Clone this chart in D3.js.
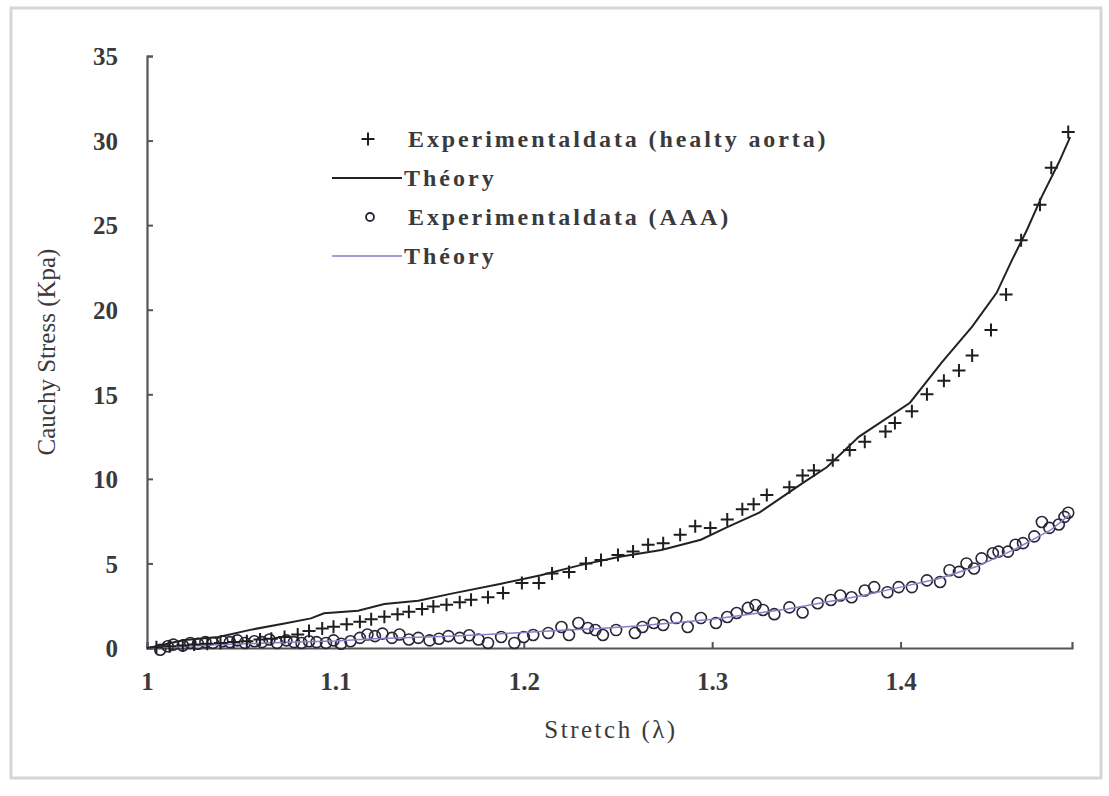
<!DOCTYPE html>
<html>
<head>
<meta charset="utf-8">
<script src="https://cdnjs.cloudflare.com/ajax/libs/d3/7.8.5/d3.min.js"></script>
<style>
body { margin: 0; background: #fff; }
text { font-family: "Liberation Serif", "Times New Roman", serif; fill: #3a3a3a; }
</style>
</head>
<body>
<svg id="chart" width="1109" height="796"></svg>
<script>
// healthy aorta, experimental (+)
var healthyStretch = [1.005,1.012,1.019,1.025,1.032,1.039,1.046,1.053,1.060,1.066,1.073,1.080,1.086,1.093,1.099,1.106,1.113,1.119,1.126,1.133,1.139,1.146,1.152,1.159,1.166,1.172,1.181,1.189,1.199,1.208,1.215,1.224,1.233,1.241,1.250,1.258,1.266,1.274,1.283,1.291,1.299,1.308,1.316,1.322,1.329,1.341,1.348,1.354,1.364,1.373,1.381,1.392,1.397,1.406,1.414,1.423,1.431,1.438,1.448,1.456,1.464,1.474,1.480,1.489];
var healthyStress = [0.05,0.1,0.15,0.2,0.25,0.3,0.35,0.4,0.5,0.55,0.65,0.8,1.0,1.15,1.25,1.4,1.55,1.7,1.85,2.0,2.15,2.3,2.45,2.55,2.7,2.85,3.0,3.25,3.85,3.85,4.4,4.5,5.0,5.2,5.5,5.7,6.1,6.2,6.7,7.2,7.1,7.6,8.2,8.5,9.05,9.5,10.2,10.5,11.1,11.7,12.2,12.8,13.3,14.0,15.0,15.8,16.4,17.3,18.8,20.9,24.1,26.2,28.4,30.5];

// healthy aorta, theory (black line)
var healthyTheoryStretch = [1.0,1.003,1.020,1.038,1.056,1.073,1.087,1.094,1.112,1.126,1.144,1.161,1.188,1.209,1.230,1.251,1.273,1.294,1.308,1.325,1.348,1.361,1.378,1.405,1.422,1.438,1.451,1.459,1.467,1.475,1.484,1.490];
var healthyTheoryStress = [0,0.06,0.47,0.65,1.1,1.45,1.75,2.05,2.2,2.6,2.8,3.2,3.8,4.3,4.9,5.4,5.8,6.4,7.15,8.0,9.75,10.7,12.5,14.5,16.9,19.0,21.0,22.9,24.7,26.7,28.7,30.2];

// AAA, experimental (o)
var aaaStretch = [1.007,1.011,1.014,1.019,1.023,1.027,1.031,1.035,1.040,1.044,1.048,1.052,1.057,1.061,1.065,1.069,1.074,1.078,1.082,1.086,1.090,1.095,1.099,1.103,1.108,1.113,1.117,1.121,1.125,1.130,1.134,1.139,1.144,1.150,1.155,1.160,1.166,1.171,1.176,1.181,1.188,1.195,1.200,1.205,1.213,1.220,1.224,1.229,1.234,1.238,1.242,1.249,1.259,1.263,1.269,1.274,1.281,1.287,1.294,1.302,1.308,1.313,1.319,1.323,1.327,1.333,1.341,1.348,1.356,1.363,1.368,1.374,1.381,1.386,1.393,1.399,1.406,1.414,1.421,1.426,1.431,1.435,1.439,1.443,1.449,1.452,1.457,1.461,1.465,1.471,1.475,1.479,1.484,1.487,1.489];
var aaaStress = [-0.1,0.1,0.2,0.15,0.3,0.25,0.35,0.3,0.4,0.35,0.45,0.3,0.4,0.35,0.5,0.3,0.45,0.35,0.3,0.4,0.35,0.3,0.45,0.25,0.4,0.6,0.8,0.7,0.85,0.6,0.8,0.5,0.6,0.45,0.55,0.7,0.6,0.75,0.5,0.3,0.65,0.3,0.65,0.77,0.89,1.24,0.77,1.48,1.18,1.06,0.77,1.06,0.89,1.24,1.48,1.36,1.77,1.24,1.77,1.48,1.83,2.07,2.37,2.54,2.25,2.0,2.4,2.1,2.65,2.84,3.1,3.0,3.4,3.6,3.3,3.6,3.6,4.0,3.9,4.6,4.5,5.0,4.7,5.3,5.6,5.7,5.7,6.1,6.2,6.6,7.45,7.1,7.3,7.75,8.0];

// AAA, theory (purple line)
var aaaTheoryStretch = [1.0,1.02,1.04,1.06,1.08,1.10,1.12,1.14,1.16,1.18,1.20,1.22,1.24,1.26,1.28,1.30,1.32,1.34,1.36,1.38,1.40,1.42,1.44,1.46,1.48,1.49];
var aaaTheoryStress = [0,0.1,0.2,0.28,0.35,0.42,0.55,0.62,0.7,0.8,0.92,1.05,1.15,1.3,1.5,1.7,2.0,2.3,2.7,3.1,3.6,4.1,4.8,5.8,7.0,7.9];

var xTicks = [1, 1.1, 1.2, 1.3, 1.4];
var yTicks = [0, 5, 10, 15, 20, 25, 30, 35];
var legendLabels = ["Experimentaldata (healty aorta)", "Théory", "Experimentaldata (AAA)", "Théory"];

// margins
var margin = { top: 56, right: 37, bottom: 148, left: 147 },
		width = 1109 - margin.left - margin.right,
		height = 796 - margin.top - margin.bottom;

var xScale = d3.scaleLinear().domain([1, 1.491]).range([0, width]);
var yScale = d3.scaleLinear().domain([0, 35]).range([height, 0]);

var svg = d3.select("#chart");

// faint frame round the picture
svg.append("rect").attr("x", 11).attr("y", 8).attr("width", 1090).attr("height", 770)
		.attr("fill", "none").attr("stroke", "#d6d6d6").attr("stroke-width", 3);

var g = svg.append("g").attr("transform", "translate(" + margin.left + "," + margin.top + ")");

// axes, ticks pointing inwards
var xAxis = d3.axisBottom(xScale).tickValues(xTicks).tickSize(-6).tickPadding(24).tickFormat(d3.format("~g"));
var yAxis = d3.axisLeft(yScale).tickValues(yTicks).tickSize(-6).tickPadding(29);

var gx = g.append("g").attr("transform", "translate(0," + height + ")").call(xAxis);
var gy = g.append("g").call(yAxis);
[gx, gy].forEach(function(a){
	a.select(".domain").attr("stroke", "#555").attr("stroke-width", 2.2);
	a.selectAll(".tick line").attr("stroke", "#555").attr("stroke-width", 2);
	a.selectAll(".tick text").style("font-size", "25px").style("font-weight", "bold").attr("fill", "#686868")
			.style("font-family", "Liberation Serif, serif");
});
gy.selectAll(".tick text").attr("dy", "0.35em");

// axis titles
svg.append("text").attr("x", 611).attr("y", 738).attr("text-anchor", "middle")
		.style("font-size", "25px").style("letter-spacing", "2.5px").attr("fill", "#444").text("Stretch (λ)");
svg.append("text").attr("transform", "translate(55," + (margin.top + height / 2) + ") rotate(-90)")
		.attr("text-anchor", "middle").style("font-size", "25px").attr("fill", "#444").text("Cauchy Stress (Kpa)");

var line = d3.line().x(function(d){ return xScale(d.x); }).y(function(d){ return yScale(d.y); });
function pairs(xs, ys){ return xs.map(function(x, i){ return {x: x, y: ys[i]}; }); }

var plusPath = "M-6.5,0H6.5M0,-6.5V6.5";

// AAA circles
g.append("g").selectAll("circle").data(pairs(aaaStretch, aaaStress)).enter().append("circle")
		.attr("cx", function(d){ return xScale(d.x); })
		.attr("cy", function(d){ return yScale(d.y); })
		.attr("r", 5.5)
		.attr("fill", "none").attr("stroke", "#2a2438").attr("stroke-width", 1.6);

// AAA theory
g.append("path").attr("d", line(pairs(aaaTheoryStretch, aaaTheoryStress)))
		.attr("fill", "none").attr("stroke", "#8a7fc4").attr("stroke-width", 1.5);

// healthy plus markers
g.append("g").selectAll("path").data(pairs(healthyStretch, healthyStress)).enter().append("path")
		.attr("d", plusPath)
		.attr("transform", function(d){ return "translate(" + xScale(d.x) + "," + yScale(d.y) + ")"; })
		.attr("stroke", "#1e1e1e").attr("stroke-width", 2);

// healthy theory
g.append("path").attr("d", line(pairs(healthyTheoryStretch, healthyTheoryStress)))
		.attr("fill", "none").attr("stroke", "#222").attr("stroke-width", 2);

// legend
var legend = svg.append("g").attr("transform", "translate(330,139)");
var rowGap = 39;
legend.append("path").attr("d", plusPath).attr("transform", "translate(38,0)").attr("stroke", "#1e1e1e").attr("stroke-width", 2);
legend.append("line").attr("x1", 2).attr("x2", 72).attr("y1", rowGap).attr("y2", rowGap).attr("stroke", "#222").attr("stroke-width", 2);
legend.append("circle").attr("cx", 40).attr("cy", rowGap * 2).attr("r", 4).attr("fill", "none").attr("stroke", "#2a2438").attr("stroke-width", 1.8);
legend.append("line").attr("x1", 2).attr("x2", 72).attr("y1", rowGap * 3).attr("y2", rowGap * 3).attr("stroke", "#8a7fc4").attr("stroke-width", 1.5);
legend.selectAll("text.lab").data(legendLabels).enter().append("text").attr("class", "lab")
		.attr("x", function(d, i){ return i % 2 ? 74 : 78; })
		.attr("y", function(d, i){ return i * rowGap; })
		.attr("dy", "0.35em")
		.style("font-size", "24px")
		.style("letter-spacing", function(d, i){ return i % 2 ? "3px" : "2.9px"; })
		.style("font-weight", "bold")
		.attr("fill", "#555")
		.text(function(d){ return d; });
</script>
</body>
</html>
